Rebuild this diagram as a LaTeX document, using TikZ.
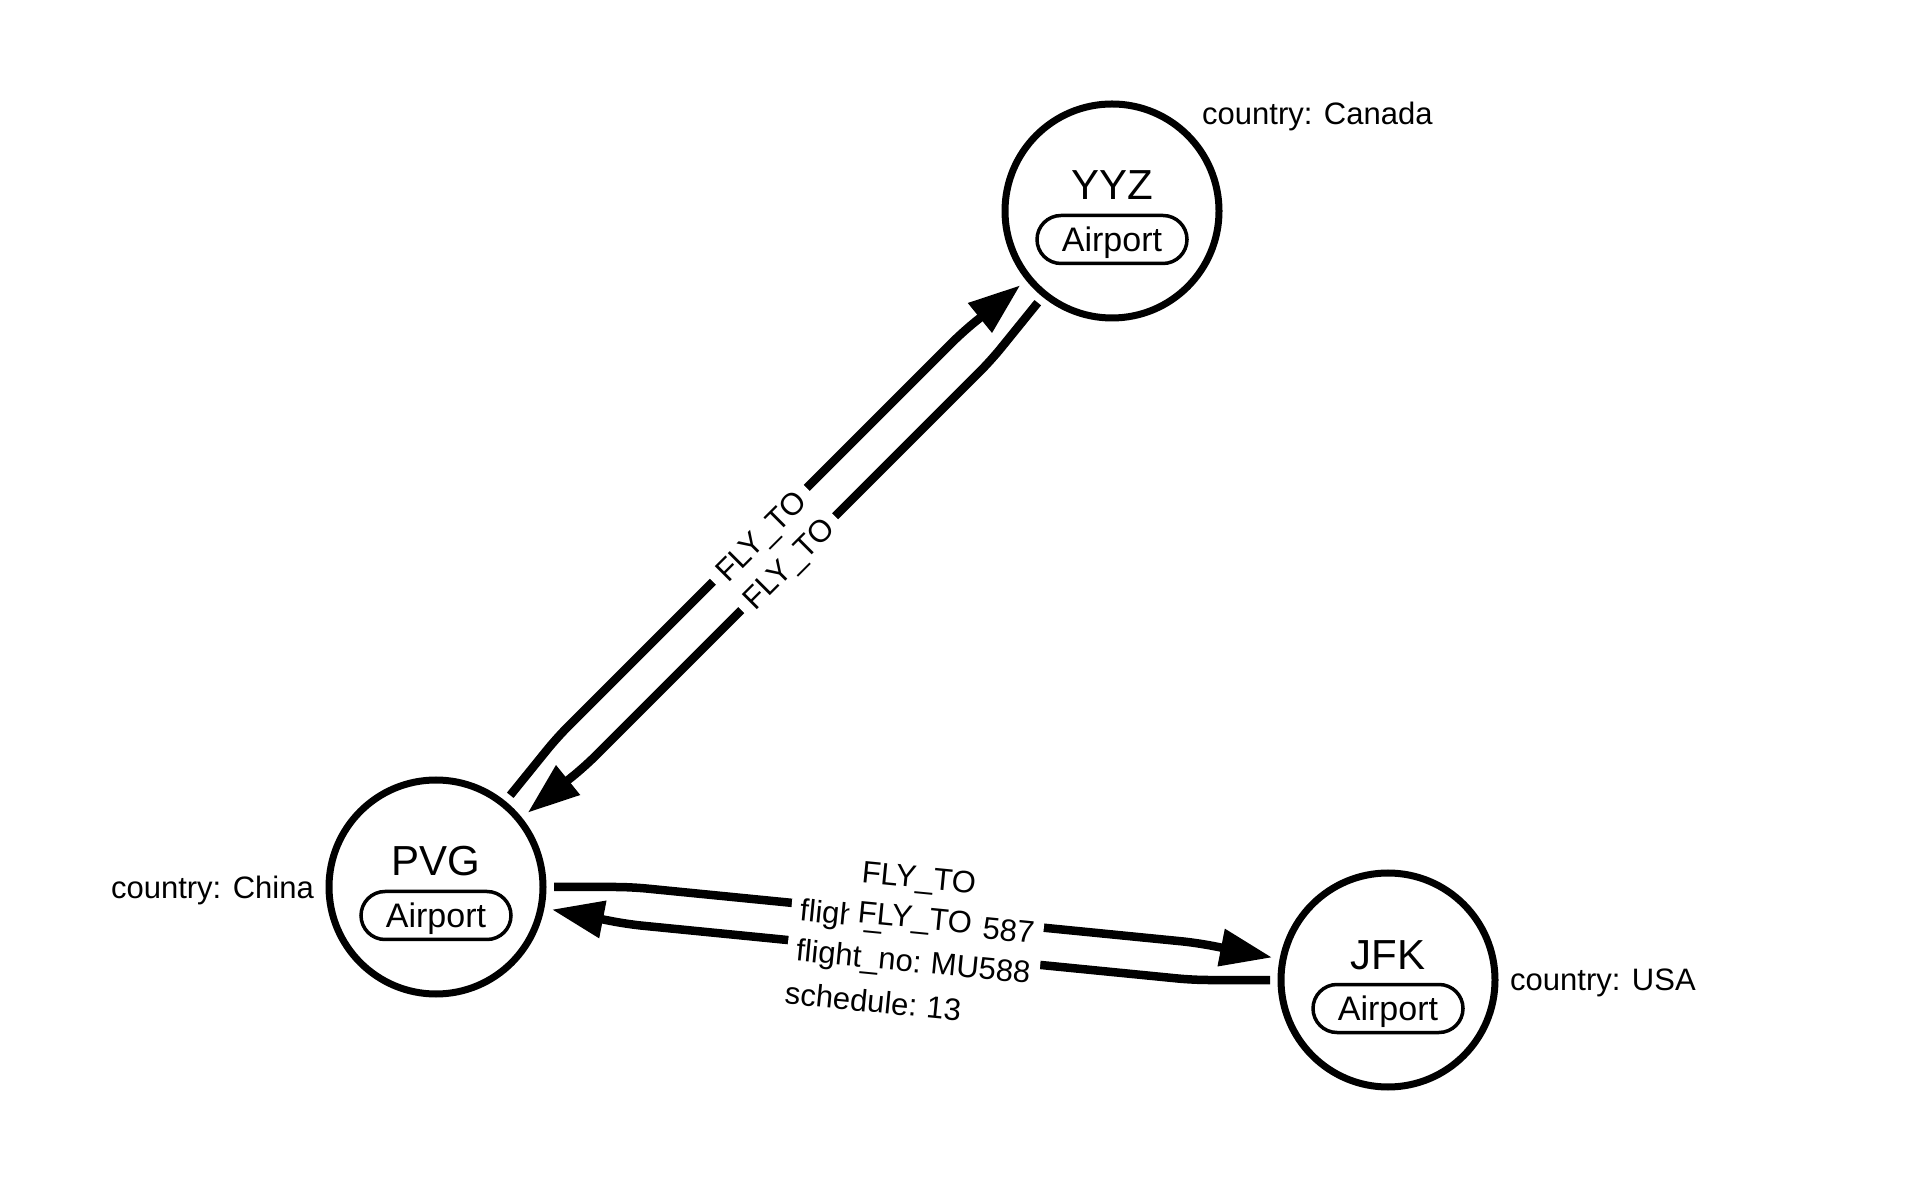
\documentclass[tikz,border=0pt]{standalone}
\usepackage{fontspec}
\setmainfont{Liberation Sans}
\usetikzlibrary{arrows.meta,calc}
\begin{document}
\begin{tikzpicture}[x=1pt,y=1pt,
  airport/.style={circle,draw=black,line width=7pt,minimum size=214pt,inner sep=0pt,outer sep=11pt},
  nodename/.style={font=\fontsize{42}{50}\selectfont,inner sep=0pt,text height=30pt,text depth=0pt},
  pill/.style={draw=black,line width=3.5pt,rounded corners=24pt,minimum width=150pt,minimum height=48pt,inner sep=0pt,text height=24.5pt,text depth=0pt,font=\fontsize{34}{40}\selectfont},
  prop/.style={font=\fontsize{31}{37}\selectfont,inner sep=0pt},
  rel/.style={line width=8.5pt,rounded corners=15pt,-{Triangle[length=52pt,width=36pt]}},
  elabel/.style={fill=white,font=\fontsize{31}{37}\selectfont,inner xsep=9pt,inner ysep=5pt,text height=22.2pt,text depth=0pt,transform shape},
  pkey/.style={fill=white,font=\fontsize{31}{37}\selectfont,inner xsep=9pt,inner ysep=5pt,text height=23pt,text depth=6.5pt,transform shape,anchor=base east},
  pval/.style={fill=white,font=\fontsize{31}{37}\selectfont,inner xsep=9pt,inner ysep=5pt,text height=23pt,text depth=6.5pt,transform shape,anchor=base west},
]
\fill[white] (0,0) rectangle (1918,1186);
\useasboundingbox (0,0) rectangle (1918,1186);

% nodes
\node[airport] (yyz) at (1112,975) {};
\node[airport] (pvg) at (436,299) {};
\node[airport] (jfk) at (1388,206) {};

\node[nodename] (yyzname) at ($(yyz)+(0,26)$) {YYZ};
\node[pill] (yyzlabel) at ($(yyz)+(0,-28.5)$) {Airport};
\node[nodename] (pvgname) at ($(pvg)+(0,26)$) {PVG};
\node[pill] (pvglabel) at ($(pvg)+(0,-28.5)$) {Airport};
\node[nodename] (jfkname) at ($(jfk)+(0,26)$) {JFK};
\node[pill] (jfklabel) at ($(jfk)+(0,-28.5)$) {Airport};

\node[prop,anchor=base west] (yyzprop) at (1202,1061) {country: Canada};
\node[prop,anchor=base east] (pvgprop) at (314,287) {country: China};
\node[prop,anchor=base west] (jfkprop) at (1510,196) {country: USA};

% relationships PVG <-> YYZ
\draw[rel] (pvg.51) -- ($(pvg)+(51:192)$) -- ($(yyz)+(219:192)$) -- (yyz.219);
\draw[rel] (yyz.231) -- ($(yyz)+(231:192)$) -- ($(pvg)+(39:192)$) -- (pvg.39);

% relationships PVG <-> JFK
\draw[rel] (pvg.0) -- ($(pvg)+(0:195)$) -- ($(jfk)+(169:195)$) -- (jfk.169);
\draw[rel] (jfk.180) -- ($(jfk)+(180:195)$) -- ($(pvg)+(349:195)$) -- (pvg.349);

% labels PVG <-> YYZ
\begin{scope}[shift={($(pvg)!0.5!(yyz)$)},rotate=45]
  \node[elabel] (dl1) at (0,19) {FLY\_TO};
  \node[elabel] (dl2) at (0,-20) {FLY\_TO};
\end{scope}

% labels PVG <-> JFK
\begin{scope}[shift={($(pvg)!0.5!(jfk)$)},rotate=-5.58]
  % upper relationship (PVG -> JFK)
  \node[elabel] (ut) at (1.5,57) {FLY\_TO};
  \node[pkey] (u2k) at (21.5,1.9) {flight\_no:};
  \node[pval] (u2v) at (12.5,1.9) {MU587};
  % lower relationship (JFK -> PVG)
  \node[elabel] (lt) at (1.5,16.7) {FLY\_TO};
  \node[pkey] (l2k) at (21.5,-38.4) {flight\_no:};
  \node[pval] (l2v) at (12.5,-38.4) {MU588};
  \node[pkey] (l3k) at (21.5,-82.4) {schedule:};
  \node[pval] (l3v) at (12.5,-82.4) {13};
\end{scope}
\end{tikzpicture}
\end{document}
